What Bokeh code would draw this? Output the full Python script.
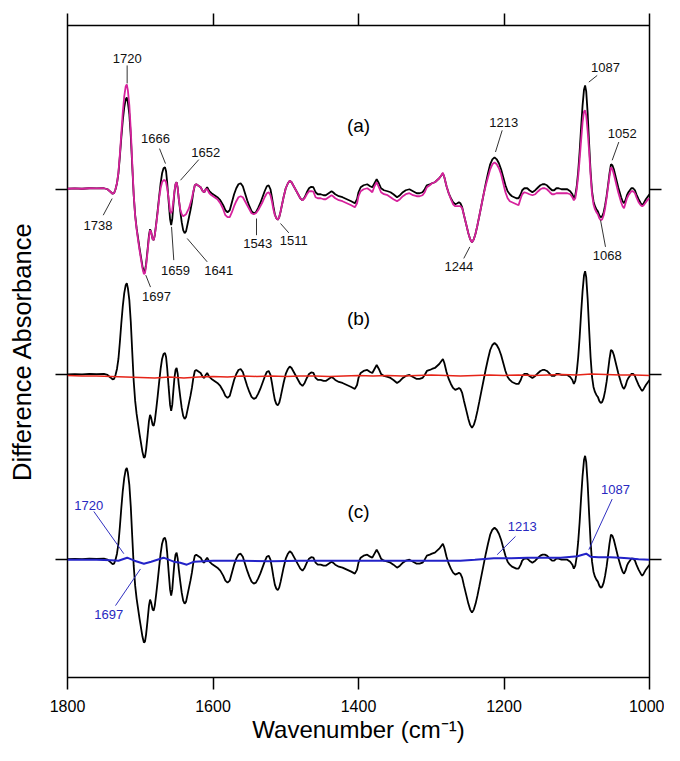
from bokeh.plotting import figure
from bokeh.models import LinearAxis, FixedTicker, Range1d, CustomJSTickFormatter
from bokeh.embed import file_html
from bokeh.resources import INLINE
from bokeh.core.properties import value

# ---------------- data ----------------
wn = [1800, 1790, 1780, 1770, 1760, 1750, 1745, 1741, 1738, 1736, 1734, 1732, 1730, 1728,
      1726, 1724, 1722, 1720, 1718.5, 1717, 1715, 1713, 1711, 1709, 1707, 1705, 1703, 1701,
      1699, 1697, 1695, 1693.5, 1692, 1690, 1688, 1686.5, 1685, 1683, 1681.5, 1680, 1678, 1676,
      1674, 1672, 1670, 1668, 1666, 1664.5, 1663, 1661, 1659, 1657.5, 1656, 1654.5, 1653, 1651.5,
      1650, 1648.5, 1647, 1645, 1643, 1641, 1639, 1637, 1635, 1633, 1631, 1629, 1627, 1625,
      1623, 1621, 1619, 1617, 1614, 1612, 1610, 1608, 1605, 1602, 1598, 1594, 1590, 1586,
      1583, 1580, 1577, 1574, 1571, 1568, 1565, 1562, 1559, 1556, 1553, 1550, 1547, 1544,
      1541, 1538, 1535, 1532, 1529, 1526, 1523.5, 1521, 1519, 1517, 1515, 1513, 1511, 1509,
      1507, 1505, 1503, 1500, 1497, 1494.5, 1492, 1489, 1486, 1483, 1480, 1477, 1474, 1471,
      1468, 1465, 1462, 1459, 1456, 1452, 1448, 1445, 1441, 1437, 1435, 1432, 1427, 1422,
      1416, 1410, 1405, 1402, 1400, 1397, 1393, 1388, 1384, 1381, 1378, 1375, 1372, 1369,
      1365, 1360, 1356, 1352, 1347, 1343, 1339, 1335, 1330, 1325, 1320, 1316, 1312, 1309,
      1306, 1302, 1299, 1295, 1292, 1289, 1286, 1284, 1282, 1279, 1276, 1273, 1270, 1267,
      1264, 1262, 1260, 1257.5, 1255, 1252, 1249, 1246.5, 1244, 1241.5, 1239, 1236.5, 1234, 1231,
      1228, 1225, 1222, 1219, 1216, 1213, 1210, 1207, 1204, 1201, 1198, 1195, 1192, 1189,
      1186, 1183, 1180, 1177, 1175, 1172, 1168, 1165, 1161, 1157, 1153, 1150, 1147, 1144,
      1141, 1137, 1134, 1131, 1128, 1125, 1121, 1117, 1113, 1109, 1106, 1104, 1102, 1100,
      1098, 1096, 1094, 1092, 1090, 1088.5, 1087, 1085, 1083, 1081, 1079, 1077, 1075, 1073,
      1071, 1069, 1067, 1065, 1063, 1061, 1059, 1057, 1055, 1053, 1051, 1049, 1047, 1045,
      1043, 1041, 1039, 1037, 1035, 1033, 1031, 1029, 1027, 1025, 1022.5, 1020, 1018, 1015,
      1012, 1010, 1008, 1005, 1003, 1000]

black = [0.05, 0.08, 0.05, 0.1, 0.08, 0.1, 0.0, -0.25, -0.45, -0.4, 0.0, 0.6, 1.6, 3.3,
         5.2, 6.9, 8.2, 9.0, 9.2, 8.7, 7.5, 5.3, 2.3, -0.6, -2.6, -3.9, -4.9, -5.9,
         -6.8, -7.7, -8.3, -8.2, -7.5, -6.1, -4.6, -4.0, -4.3, -5.0, -5.1, -4.6, -3.4, -2.1,
         -0.7, 0.6, 1.6, 2.1, 2.2, 1.8, 0.7, -1.2, -3.0, -3.6, -3.0, -1.6, -0.3, 0.5,
         0.7, 0.1, -1.0, -2.2, -3.3, -4.1, -4.4, -4.2, -3.5, -2.8, -2.1, -1.3, -0.3, 0.4,
         0.5, 0.4, 0.3, 0.2, -0.2, -0.3, 0.0, 0.2, -0.2, -0.4, -0.6, -0.8, -1.1, -1.6,
         -2.1, -2.3, -2.1, -1.3, -0.5, 0.1, 0.5, 0.6, 0.3, -0.4, -1.1, -1.7, -2.2, -2.4,
         -2.3, -1.9, -1.4, -0.8, -0.2, 0.3, 0.4, 0.0, -0.8, -1.7, -2.5, -2.9, -3.05, -2.8,
         -2.2, -1.5, -0.8, 0.1, 0.6, 0.85, 0.7, 0.3, -0.1, -0.5, -0.9, -1.1, -0.8, -0.3,
         0.1, 0.25, 0.2, -0.3, -0.5, -0.5, -0.6, -0.6, -0.4, -0.2, -0.3, -0.5, -0.7, -0.8,
         -1.0, -1.2, -1.4, -1.0, -0.3, 0.2, 0.4, 0.5, 0.3, 0.2, 0.6, 1.0, 0.6, 0.1,
         -0.1, -0.2, -0.3, -0.5, -0.8, -0.6, -0.3, -0.1, 0.0, -0.2, -0.4, -0.4, -0.3, 0.0,
         0.4, 0.5, 0.6, 0.7, 0.9, 1.1, 1.4, 1.6, 1.2, 0.3, -0.4, -0.9, -1.3, -1.5,
         -1.4, -1.3, -1.4, -1.8, -2.6, -3.5, -4.4, -5.0, -5.3, -5.0, -4.4, -3.6, -2.7, -1.6,
         -0.5, 0.6, 1.6, 2.5, 3.0, 3.2, 3.0, 2.6, 2.0, 1.2, 0.4, -0.2, -0.5, -0.7,
         -0.8, -0.9, -0.9, -0.5, -0.1, 0.1, 0.1, -0.1, -0.3, -0.1, 0.2, 0.4, 0.5, 0.5,
         0.4, 0.1, -0.1, -0.1, 0.1, 0.1, 0.0, 0.0, 0.0, -0.2, -0.5, -0.9, -0.6, 0.3,
         1.8, 3.8, 6.2, 8.4, 10.0, 10.4, 9.8, 7.6, 4.6, 1.8, -0.2, -1.2, -1.7, -2.0,
         -2.2, -2.6, -2.8, -2.7, -2.3, -1.6, -0.7, 0.4, 1.6, 2.5, 2.4, 2.0, 1.4, 0.8,
         0.2, -0.3, -0.8, -1.2, -1.4, -1.1, -0.6, -0.3, -0.1, 0.1, 0.1, -0.1, -0.5, -1.0,
         -1.4, -1.6, -1.4, -1.0, -0.8, -0.5]

magenta = [0.05, 0.08, 0.05, 0.1, 0.08, 0.1, 0.0, -0.25, -0.45, -0.4, 0.0, 0.6, 1.7, 3.5,
           5.6, 7.7, 9.3, 10.3, 10.5, 9.9, 8.4, 5.9, 2.6, -0.5, -2.7, -4.0, -5.1, -6.1,
           -7.0, -7.9, -8.5, -8.4, -7.7, -6.3, -4.8, -4.1, -4.3, -5.0, -5.1, -4.6, -3.5, -2.3,
           -0.9, 0.1, 0.7, 0.9, 0.9, 0.7, 0.1, -0.9, -2.2, -2.4, -2.1, -1.2, -0.2, 0.5,
           0.7, 0.1, -1.0, -2.0, -2.5, -2.7, -2.6, -2.5, -2.2, -1.9, -1.4, -0.9, -0.2, 0.4,
           0.5, 0.4, 0.3, 0.2, -0.2, -0.3, 0.0, 0.0, -0.4, -0.6, -0.8, -1.0, -1.4, -2.0,
           -2.6, -2.8, -2.8, -2.3, -1.7, -1.2, -0.8, -0.7, -0.8, -1.2, -1.6, -2.0, -2.4, -2.5,
           -2.4, -2.1, -1.7, -1.3, -0.8, -0.4, -0.3, -0.6, -1.2, -2.0, -2.6, -2.9, -3.05, -2.8,
           -2.2, -1.5, -0.8, 0.1, 0.6, 0.85, 0.7, 0.3, -0.1, -0.5, -0.9, -1.1, -0.9, -0.5,
           -0.2, -0.2, -0.25, -0.8, -0.9, -0.9, -1.0, -1.0, -0.8, -0.6, -0.7, -0.9, -1.1, -1.2,
           -1.4, -1.6, -1.8, -1.4, -0.7, -0.2, 0.0, 0.1, -0.1, -0.3, 0.3, 0.7, 0.2, -0.3,
           -0.5, -0.6, -0.8, -1.0, -1.2, -1.0, -0.7, -0.5, -0.4, -0.6, -0.7, -0.7, -0.6, -0.3,
           0.2, 0.4, 0.6, 0.7, 0.9, 1.1, 1.4, 1.65, 1.2, 0.3, -0.4, -1.0, -1.5, -1.7,
           -1.7, -1.7, -1.7, -1.9, -2.6, -3.5, -4.4, -5.0, -5.3, -5.0, -4.4, -3.6, -2.7, -1.6,
           -0.5, 0.4, 1.2, 2.0, 2.5, 2.7, 2.5, 2.1, 1.5, 0.6, -0.3, -0.9, -1.2, -1.3,
           -1.4, -1.5, -1.6, -0.9, -0.5, -0.3, -0.4, -0.5, -0.6, -0.5, -0.2, 0.0, 0.1, 0.1,
           0.0, -0.3, -0.5, -0.5, -0.4, -0.4, -0.4, -0.4, -0.4, -0.5, -0.8, -1.1, -0.9, 0.0,
           1.3, 3.0, 4.9, 6.7, 7.8, 7.9, 7.4, 5.8, 3.8, 1.4, -0.5, -1.5, -2.0, -2.3,
           -2.5, -2.9, -3.1, -3.0, -2.6, -1.9, -0.9, 0.2, 1.3, 2.2, 2.0, 1.5, 0.9, 0.3,
           -0.3, -0.8, -1.3, -1.7, -1.9, -1.4, -0.9, -0.6, -0.4, -0.2, -0.2, -0.4, -0.8, -1.3,
           -1.6, -1.7, -1.6, -1.3, -1.1, -0.9]

red_wn = [1800, 1780, 1760, 1740, 1720, 1700, 1680, 1660, 1640, 1620, 1600, 1580, 1560, 1540,
          1520, 1500, 1480, 1460, 1440, 1420, 1400, 1380, 1360, 1340, 1320, 1300, 1280, 1260,
          1240, 1220, 1200, 1180, 1160, 1140, 1120, 1100, 1080, 1060, 1040, 1020, 1000]
red = [-0.05, -0.1, -0.1, -0.15, -0.2, -0.25, -0.3, -0.2, -0.3, -0.2, -0.15, -0.2, -0.1, -0.15,
       -0.1, -0.15, -0.1, -0.1, -0.15, -0.1, -0.05, -0.1, -0.05, -0.1, -0.05, 0.0, -0.05, -0.1,
       -0.05, 0.0, -0.05, 0.0, -0.05, 0.0, 0.05, 0.0, 0.1, 0.05, 0.0, 0.0, -0.05]

blue_wn = [1800, 1780, 1760, 1740, 1730, 1718, 1708, 1695, 1685, 1668, 1654, 1645, 1636, 1626,
           1600, 1560, 1520, 1480, 1440, 1400, 1360, 1320, 1300, 1260, 1240, 1214, 1190, 1168,
           1140, 1122, 1099, 1092, 1087, 1081, 1070, 1054, 1040, 1030, 1015, 1000]
blue = [0.0, 0.0, 0.0, -0.05, -0.1, 0.2, -0.1, -0.4, -0.2, 0.2, -0.2, -0.3, -0.5, -0.2,
        -0.1, -0.1, -0.15, -0.1, -0.1, -0.1, -0.1, -0.1, -0.1, -0.1, 0.0, 0.15, 0.15, 0.2,
        0.2, 0.2, 0.35, 0.5, 0.6, 0.3, 0.25, 0.25, 0.2, 0.15, 0.05, 0.0]

offsets = [0.0, -18.6, -37.1]
x_ticks = [1800, 1600, 1400, 1200, 1000]
panel_labels = ["(a)", "(b)", "(c)"]

# peak annotations of trace (a): label, text position, leader start, leader end
ann_a = ["1720", "1738", "1666", "1652", "1659", "1641", "1697", "1543", "1511",
         "1244", "1213", "1087", "1052", "1068"]
ann_a_tx = [1718, 1758, 1679, 1610, 1651.5, 1592, 1677.7, 1538.4, 1489, 1262, 1200.3, 1060.5, 1037.5, 1058]
ann_a_ty = [13.07, -3.6, 5.07, 3.73, -8.1, -8.1, -10.7, -5.43, -5.1, -7.77, 6.73, 12.23, 5.57, -6.6]
lead_a_x0 = [1718, 1750.9, 1673.5, 1619.5, 1653.9, 1608, 1692.4, 1540.2, 1507.2, 1255.3, 1202.5, 1071.9, 1042.2, 1060.5]
lead_a_y0 = [12.4, -2.6, 4.07, 2.97, -7.1, -7.27, -8.6, -2.93, -3.43, -6.93, 5.9, 11.4, 4.73, -5.77]
lead_a_x1 = [1718, 1738.6, 1665.3, 1644.7, 1657, 1635.5, 1685.9, 1540.2, 1495.8, 1247, 1211.7, 1083.4, 1051.3, 1067.3]
lead_a_y1 = [10.6, -0.93, 2.57, 0.9, -3.77, -4.93, -9.8, -4.6, -4.37, -5.77, 3.73, 10.73, 2.9, -3.1]

ann_c = ["1720", "1697", "1213", "1087"]
ann_c_tx = [1770.7, 1743.2, 1175, 1046.7]
ann_c_ty = [-31.7, -42.6, -33.77, -30.1]
lead_c_x0 = [1763.8, 1734, 1184.2, 1051.3]
lead_c_y0 = [-32.27, -41.7, -34.77, -31.03]
lead_c_x1 = [1722.6, 1699.7, 1209.4, 1083.4]
lead_c_y1 = [-36.5, -38.03, -36.6, -36.1]

# ---------------- figure ----------------
FONT = "Liberation Sans"
p = figure(width=664, height=745, output_backend="svg", toolbar_location=None,
           x_range=Range1d(1800, 1000), y_range=Range1d(-48.9, 16.4),
           x_axis_location=None, y_axis_location=None,
           min_border_left=67, min_border_right=15, min_border_top=25, min_border_bottom=67)
p.grid.visible = False
p.outline_line_color = "black"
p.outline_line_width = 1.5
p.background_fill_color = "white"
p.border_fill_color = "white"


def make_axis(ticks, labels):
    ax = LinearAxis(ticker=FixedTicker(ticks=ticks, minor_ticks=[]))
    ax.axis_line_color = None
    ax.major_tick_out = 12
    ax.major_tick_in = 0
    ax.minor_tick_out = 0
    ax.minor_tick_in = 0
    ax.major_tick_line_color = "black"
    ax.major_tick_line_width = 1.5
    if labels:
        ax.major_label_text_font = FONT
        ax.major_label_text_font_size = "16px"
        ax.major_label_text_color = "black"
        ax.major_label_standoff = 10
    else:
        ax.formatter = CustomJSTickFormatter(code="return ''")
        ax.major_label_standoff = 0
    return ax


bottom = make_axis(x_ticks, True)
bottom.axis_label = "Wavenumber (cm\u207b\u00b9)"
bottom.axis_label_text_font = FONT
bottom.axis_label_text_font_size = "24px"
bottom.axis_label_text_font_style = "normal"
bottom.axis_label_text_color = "black"
bottom.axis_label_standoff = 1
p.add_layout(bottom, "below")
p.add_layout(make_axis(x_ticks, False), "above")

left = make_axis(offsets, False)
left.axis_label = "Difference Absorbance"
left.axis_label_text_font = FONT
left.axis_label_text_font_size = "25.5px"
left.axis_label_text_font_style = "normal"
left.axis_label_text_color = "black"
left.axis_label_standoff = 20
p.add_layout(left, "left")
p.add_layout(make_axis(offsets, False), "right")

# ---------------- traces ----------------
for off in offsets:
    p.line(wn, [v + off for v in black], line_color="black", line_width=1.8)
p.line(wn, [v + offsets[0] for v in magenta], line_color="#d6229c", line_width=1.8)
p.line(red_wn, [v + offsets[1] for v in red], line_color="#e62418", line_width=1.5)
p.line(blue_wn, [v + offsets[2] for v in blue], line_color="#2323c8", line_width=2.0)

# ---------------- annotations ----------------
p.segment(lead_a_x0, lead_a_y0, lead_a_x1, lead_a_y1, line_color="#333333", line_width=1)
p.text(ann_a_tx, ann_a_ty, text=ann_a, text_font=value(FONT), text_font_size="13px",
       text_align="center", text_baseline="middle", text_color="#111111")

p.segment(lead_c_x0, lead_c_y0, lead_c_x1, lead_c_y1, line_color="#3030c0", line_width=1)
p.text(ann_c_tx, ann_c_ty, text=ann_c, text_font=value(FONT), text_font_size="13px",
       text_align="center", text_baseline="middle", text_color="#2828c0")

panel_y = [6.4, -12.9, -32.3]
p.text([1400, 1400, 1400], panel_y, text=panel_labels, text_font=value(FONT), text_font_size="19px",
       text_align="center", text_baseline="middle", text_color="black")

open("out.html", "w").write(file_html(p, INLINE))
